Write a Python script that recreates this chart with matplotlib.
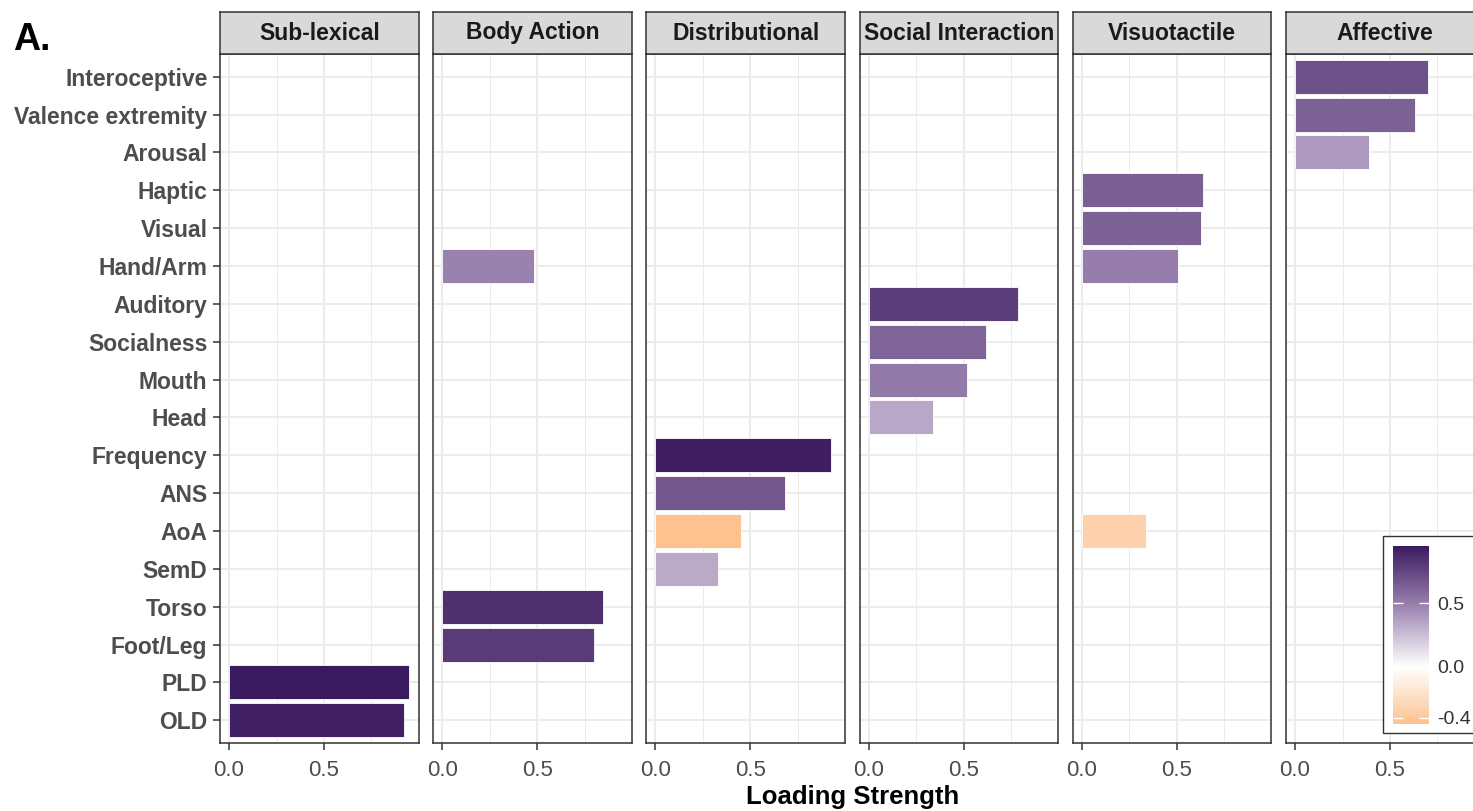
import matplotlib
matplotlib.use('Agg')
import matplotlib.pyplot as plt
from matplotlib.colors import LinearSegmentedColormap, Normalize
from matplotlib.cm import ScalarMappable
from matplotlib.patches import Rectangle

plt.rcParams['font.family'] = ['Liberation Sans', 'DejaVu Sans']

# row order, top to bottom
categories = ['Interoceptive', 'Valence extremity', 'Arousal', 'Haptic', 'Visual',
              'Hand/Arm', 'Auditory', 'Socialness', 'Mouth', 'Head', 'Frequency',
              'ANS', 'AoA', 'SemD', 'Torso', 'Foot/Leg', 'PLD', 'OLD']

facets = ['Sub-lexical', 'Body Action', 'Distributional', 'Social Interaction',
          'Visuotactile', 'Affective']

sublexical_vars = ['PLD', 'OLD']
sublexical_vals = [0.947, 0.92]
body_vars = ['Hand/Arm', 'Torso', 'Foot/Leg']
body_vals = [0.484, 0.847, 0.80]
distr_vars = ['Frequency', 'ANS', 'AoA', 'SemD']
distr_vals = [0.926, 0.68, -0.45, 0.33]
social_vars = ['Auditory', 'Socialness', 'Mouth', 'Head']
social_vals = [0.784, 0.62, 0.52, 0.34]
visuo_vars = ['Haptic', 'Visual', 'Hand/Arm', 'AoA']
visuo_vals = [0.64, 0.626, 0.505, -0.34]
affect_vars = ['Interoceptive', 'Valence extremity', 'Arousal']
affect_vals = [0.70, 0.63, 0.39]

facet_data = {
    'Sub-lexical': (sublexical_vars, sublexical_vals),
    'Body Action': (body_vars, body_vals),
    'Distributional': (distr_vars, distr_vals),
    'Social Interaction': (social_vars, social_vals),
    'Visuotactile': (visuo_vars, visuo_vals),
    'Affective': (affect_vars, affect_vals),
}

vmin, vmax = -0.45, 0.95
norm = Normalize(vmin=vmin, vmax=vmax)
cmap = LinearSegmentedColormap.from_list(
    'loading',
    [(0.0, '#FCC290'),
     ((0 - vmin) / (vmax - vmin), '#FFFFFF'),
     ((0.475 - vmin) / (vmax - vmin), '#9C84B0'),
     (1.0, '#3A1A5E')])

W, H = 1473, 811
fig = plt.figure(figsize=(W / 100, H / 100), dpi=100)

n = len(categories)
ypos = {c: n - 1 - i for i, c in enumerate(categories)}

left0, step, pw = 220, 213.2, 198.5
ptop, pbot = 54, 743
strip_top = 12

for k, facet in enumerate(facets):
    x0 = left0 + k * step
    ax = fig.add_axes([x0 / W, 1 - pbot / H, pw / W, (pbot - ptop) / H])
    vars_, vals = facet_data[facet]
    ys = [ypos[v] for v in vars_]
    ax.barh(ys, [abs(v) for v in vals], height=0.9,
            color=[cmap(norm(v)) for v in vals],
            edgecolor='white', linewidth=0.6, zorder=3)
    ax.set_xlim(-0.0475, 0.9975)
    ax.set_ylim(-0.6, n - 0.4)
    ax.set_xticks([0, 0.5])
    ax.set_xticklabels(['0.0', '0.5'])
    ax.set_xticks([0.25, 0.75], minor=True)
    ax.set_yticks(range(n))
    ax.grid(True, which='major', color='#EBEBEB', linewidth=1.3, zorder=0)
    ax.grid(True, which='minor', axis='x', color='#EBEBEB', linewidth=0.7, zorder=0)
    ax.set_axisbelow(True)
    ax.tick_params(axis='x', which='major', length=5, width=1.1, color='#333333',
                   labelsize=16, labelcolor='#4D4D4D', pad=7)
    ax.tick_params(axis='x', which='minor', length=0)
    if k == 0:
        ax.set_yticklabels(categories[::-1], fontsize=16.5, fontweight='bold',
                           color='#4D4D4D')
        ax.tick_params(axis='y', length=5, width=1.1, color='#333333', pad=4)
    else:
        ax.tick_params(axis='y', length=0, labelleft=False)
    for s in ax.spines.values():
        s.set_color('#333333')
        s.set_linewidth(1.1)

    sax = fig.add_axes([x0 / W, 1 - ptop / H, pw / W, (ptop - strip_top) / H])
    sax.set_facecolor('#D9D9D9')
    sax.set_xticks([])
    sax.set_yticks([])
    for s in sax.spines.values():
        s.set_color('#333333')
        s.set_linewidth(1.1)
    sax.text(0.5, 0.5, facet, ha='center', va='center', fontsize=16.5,
             fontweight='bold', color='#1A1A1A', transform=sax.transAxes)

fig.text((left0 + (left0 + 5 * step + pw)) / 2 / W, 1 - 797 / H, 'Loading Strength',
         ha='center', va='center', fontsize=18.5, fontweight='bold', color='black')
fig.text(13 / W, 1 - 40 / H, 'A.', ha='left', va='center', fontsize=27,
         fontweight='bold', color='black')

# colour legend box, overlapping the last panel
box = Rectangle((1383 / W, 1 - 733 / H), 120 / W, 197 / H, transform=fig.transFigure,
                facecolor='white', edgecolor='#333333', linewidth=1.0, zorder=5)
fig.add_artist(box)
cax = fig.add_axes([1393 / W, 1 - 724 / H, 36 / W, 178 / H])
cax.set_zorder(6)
cb = fig.colorbar(ScalarMappable(norm=norm, cmap=cmap), cax=cax)
cb.outline.set_visible(False)
cb.set_ticks([-0.4, 0.0, 0.5])
cb.set_ticklabels(['-0.4', '0.0', '0.5'])
cax.tick_params(axis='y', direction='in', length=7, width=1, color='white',
                labelsize=14, labelcolor='#333333', left=True, right=True, pad=6)

fig.savefig('out.png', dpi=100)
